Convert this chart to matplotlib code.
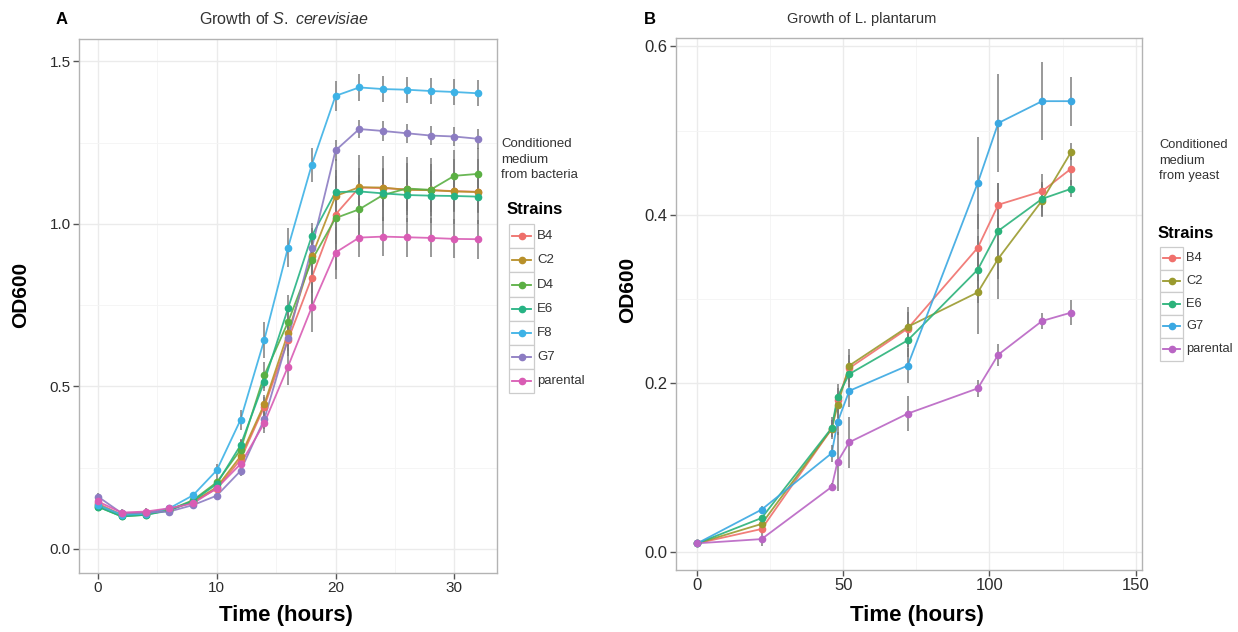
import numpy as np
import matplotlib
matplotlib.use("Agg")
import matplotlib.pyplot as plt
from matplotlib.patches import Rectangle
from matplotlib.lines import Line2D

plt.rcParams['font.family'] = ['Liberation Sans', 'DejaVu Sans']
plt.rcParams['mathtext.fontset'] = 'custom'
plt.rcParams['mathtext.rm'] = 'Liberation Sans'
plt.rcParams['mathtext.it'] = 'Liberation Sans:italic'

W, H = 1238, 632

# ---- panel A: S. cerevisiae ----
time_a = np.arange(0, 34, 2)
strains_a = ['B4', 'C2', 'D4', 'E6', 'F8', 'G7', 'parental']
colors_a = ['#EE6F6A', '#B8902A', '#5AAF43', '#26B384', '#3DB2E6', '#8C7CC2', '#D95CB4']

od_b4 = [0.140, 0.105, 0.110, 0.120, 0.145, 0.185, 0.275, 0.438, 0.643, 0.835, 1.029, 1.112, 1.110, 1.106, 1.104, 1.101, 1.099]
od_c2 = [0.135, 0.105, 0.110, 0.122, 0.145, 0.190, 0.285, 0.445, 0.664, 0.900, 1.086, 1.113, 1.112, 1.105, 1.104, 1.100, 1.098]
od_d4 = [0.130, 0.100, 0.105, 0.120, 0.150, 0.205, 0.305, 0.534, 0.698, 0.888, 1.018, 1.045, 1.089, 1.109, 1.105, 1.148, 1.154]
od_e6 = [0.130, 0.100, 0.105, 0.118, 0.148, 0.200, 0.319, 0.515, 0.740, 0.963, 1.098, 1.100, 1.094, 1.089, 1.087, 1.086, 1.084]
od_f8 = [0.135, 0.105, 0.108, 0.125, 0.165, 0.242, 0.397, 0.643, 0.927, 1.182, 1.394, 1.420, 1.415, 1.413, 1.409, 1.406, 1.402]
od_g7 = [0.161, 0.110, 0.112, 0.115, 0.135, 0.164, 0.240, 0.399, 0.648, 0.925, 1.226, 1.292, 1.286, 1.279, 1.272, 1.269, 1.262]
od_par = [0.146, 0.112, 0.115, 0.125, 0.140, 0.187, 0.261, 0.387, 0.561, 0.744, 0.912, 0.958, 0.961, 0.959, 0.957, 0.954, 0.953]

sd_b4 = [0.01, 0.01, 0.01, 0.01, 0.01, 0.015, 0.02, 0.03, 0.05, 0.08, 0.17, 0.10, 0.10, 0.10, 0.10, 0.10, 0.10]
sd_c2 = [0.01, 0.01, 0.01, 0.01, 0.01, 0.015, 0.02, 0.03, 0.04, 0.06, 0.08, 0.06, 0.06, 0.06, 0.06, 0.06, 0.06]
sd_d4 = [0.01, 0.01, 0.01, 0.01, 0.01, 0.015, 0.03, 0.04, 0.05, 0.10, 0.08, 0.08, 0.08, 0.08, 0.08, 0.08, 0.08]
sd_e6 = [0.01, 0.01, 0.01, 0.01, 0.01, 0.015, 0.02, 0.03, 0.04, 0.04, 0.05, 0.05, 0.05, 0.05, 0.05, 0.05, 0.05]
sd_f8 = [0.01, 0.01, 0.01, 0.01, 0.01, 0.02, 0.03, 0.056, 0.06, 0.053, 0.046, 0.042, 0.04, 0.04, 0.04, 0.04, 0.04]
sd_g7 = [0.01, 0.01, 0.01, 0.01, 0.01, 0.01, 0.015, 0.03, 0.04, 0.05, 0.032, 0.028, 0.03, 0.03, 0.03, 0.03, 0.03]
sd_par = [0.01, 0.01, 0.01, 0.01, 0.01, 0.015, 0.02, 0.03, 0.056, 0.077, 0.08, 0.06, 0.06, 0.06, 0.06, 0.06, 0.06]

od_a = [od_b4, od_c2, od_d4, od_e6, od_f8, od_g7, od_par]
sd_a = [sd_b4, sd_c2, sd_d4, sd_e6, sd_f8, sd_g7, sd_par]

# ---- panel B: L. plantarum ----
time_b = [0, 22, 46, 48, 52, 72, 96, 103, 118, 128]
strains_b = ['B4', 'C2', 'E6', 'G7', 'parental']
colors_b = ['#F0706C', '#9A9A2E', '#2BB27A', '#3AA8E2', '#B965C4']

odb_b4 = [0.010, 0.027, 0.146, 0.180, 0.218, 0.265, 0.361, 0.412, 0.428, 0.455]
odb_c2 = [0.010, 0.033, 0.146, 0.174, 0.221, 0.267, 0.308, 0.348, 0.417, 0.475]
odb_e6 = [0.010, 0.040, 0.147, 0.184, 0.211, 0.251, 0.335, 0.381, 0.419, 0.431]
odb_g7 = [0.010, 0.050, 0.117, 0.154, 0.191, 0.221, 0.438, 0.509, 0.535, 0.535]
odb_par = [0.010, 0.015, 0.077, 0.107, 0.130, 0.164, 0.194, 0.234, 0.274, 0.284]

sdb_b4 = [0.0, 0.004, 0.010, 0.015, 0.015, 0.020, 0.040, 0.026, 0.020, 0.020]
sdb_c2 = [0.0, 0.004, 0.010, 0.015, 0.020, 0.024, 0.050, 0.048, 0.020, 0.010]
sdb_e6 = [0.0, 0.004, 0.013, 0.015, 0.015, 0.020, 0.040, 0.057, 0.020, 0.010]
sdb_g7 = [0.0, 0.004, 0.010, 0.015, 0.019, 0.021, 0.055, 0.058, 0.046, 0.029]
sdb_par = [0.0, 0.008, 0.005, 0.035, 0.030, 0.021, 0.010, 0.013, 0.010, 0.015]

od_b = [odb_b4, odb_c2, odb_e6, odb_g7, odb_par]
sd_b = [sdb_b4, sdb_c2, sdb_e6, sdb_g7, sdb_par]


def fx(x):
    return x / W


def fy(y):
    return 1 - y / H


def style_axes(ax, xticks, yticks, xminor, yminor, ylabels, tick_fs):
    ax.set_xticks(xticks)
    ax.set_yticks(yticks)
    ax.set_yticklabels(ylabels)
    ax.set_xticks(xminor, minor=True)
    ax.set_yticks(yminor, minor=True)
    ax.grid(True, which='major', color='#EBEBEB', lw=1.0, zorder=0)
    ax.grid(True, which='minor', color='#F4F4F4', lw=0.6, zorder=0)
    ax.set_axisbelow(True)
    for s in ax.spines.values():
        s.set_color('#B3B3B3')
        s.set_linewidth(1.0)
    ax.tick_params(which='major', direction='out', length=4, width=1,
                   color='#555555', labelsize=tick_fs, labelcolor='#2B2B2B', pad=2)
    ax.tick_params(which='minor', length=0)


def draw_panel(ax, t, ods, sds, colors):
    for od, sd, c in zip(ods, sds, colors):
        ax.plot(t, od, color=c, lw=1.3, alpha=0.9, zorder=2)
        ax.errorbar(t, od, yerr=sd, fmt='none', ecolor='#777777', elinewidth=1.4,
                    alpha=0.75, capsize=0, zorder=2.5)
        ax.plot(t, od, 'o', color=c, ms=4.5, mec=c, zorder=3)


def draw_legend(fig, x_txt, y_txt, note, x_box, y_top, bw, bh, strains, colors, fs):
    fig.text(fx(x_txt), fy(y_txt), note, ha='left', va='top', fontsize=fs,
             color='#333333', linespacing=1.4)
    fig.text(fx(x_box - 2), fy(y_top - 14), 'Strains', ha='left', va='center',
             fontsize=12, fontweight='bold', color='black')
    for i, (name, c) in enumerate(zip(strains, colors)):
        top = y_top + i * bh
        fig.add_artist(Rectangle((fx(x_box), fy(top + bh)), bw / W, bh / H,
                                 transform=fig.transFigure, facecolor='white',
                                 edgecolor='#CCCCCC', lw=0.9))
        yc = fy(top + bh / 2)
        fig.add_artist(Line2D([fx(x_box + 3), fx(x_box + bw - 3)], [yc, yc],
                              transform=fig.transFigure, color=c, lw=1.3))
        fig.add_artist(Line2D([fx(x_box + bw / 2)], [yc], marker='o', ms=4.5,
                              transform=fig.transFigure, color=c))
        fig.text(fx(x_box + bw + 3), yc, name, ha='left', va='center',
                 fontsize=fs, color='#333333')


fig = plt.figure(figsize=(W / 100, H / 100), dpi=100)

# panel A
ax1 = fig.add_axes([fx(79), fy(573), 418 / W, 534 / H])
draw_panel(ax1, time_a, od_a, sd_a, colors_a)
ax1.set_xlim(-1.6, 33.6)
ax1.set_ylim(-0.074, 1.569)
style_axes(ax1, [0, 10, 20, 30], [0, 0.5, 1.0, 1.5], [5, 15, 25],
           [0.25, 0.75, 1.25], ['0.0', '0.5', '1.0', '1.5'], 11)

# panel B
ax2 = fig.add_axes([fx(676), fy(570), 466 / W, 532 / H])
draw_panel(ax2, time_b, od_b, sd_b, colors_b)
ax2.set_xlim(-7.3, 152.2)
ax2.set_ylim(-0.0217, 0.610)
style_axes(ax2, [0, 50, 100, 150], [0, 0.2, 0.4, 0.6], [25, 75, 125],
           [0.1, 0.3, 0.5], ['0.0', '0.2', '0.4', '0.6'], 12)

# titles and labels
fig.text(fx(62), fy(19), 'A', ha='center', va='center', fontsize=12, fontweight='bold')
fig.text(fx(650), fy(19), 'B', ha='center', va='center', fontsize=12, fontweight='bold')
fig.text(fx(284), fy(19), 'Growth of $\\it{S.\\ cerevisiae}$', ha='center', va='center',
         fontsize=11.5, color='#333333')
fig.text(fx(862), fy(19), 'Growth of L. plantarum', ha='center', va='center',
         fontsize=10.5, color='#333333')
fig.text(fx(21), fy(295), 'OD600', rotation=90, ha='center', va='center',
         fontsize=15, fontweight='bold')
fig.text(fx(628), fy(290), 'OD600', rotation=90, ha='center', va='center',
         fontsize=15, fontweight='bold')
fig.text(fx(286), fy(616), 'Time (hours)', ha='center', va='center',
         fontsize=16, fontweight='bold')
fig.text(fx(917), fy(616), 'Time (hours)', ha='center', va='center',
         fontsize=16, fontweight='bold')

draw_legend(fig, 501, 138, 'Conditioned\nmedium\nfrom bacteria', 509, 224, 25, 24.2,
            strains_a, colors_a, 9.5)
draw_legend(fig, 1159, 139, 'Conditioned\nmedium\nfrom yeast', 1160, 247, 23, 22.7,
            strains_b, colors_b, 9.3)

fig.savefig('out.png', dpi=100, facecolor='white')
